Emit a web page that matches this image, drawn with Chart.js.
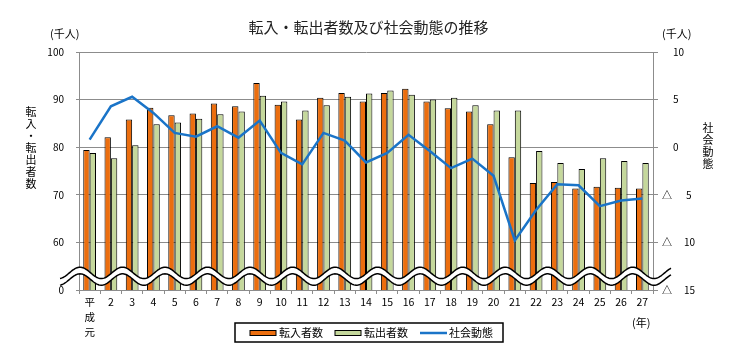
<!DOCTYPE html>
<html lang="ja">
<head>
<meta charset="utf-8">
<title>転入・転出者数及び社会動態の推移</title>
<script src="https://cdn.jsdelivr.net/npm/chart.js@4.4.1/dist/chart.umd.min.js"></script>
<style>
  html, body { margin: 0; padding: 0; background: #fff; }
</style>
</head>
<body>
<canvas id="chart" width="737" height="351"></canvas>
<script>
// 平成元年〜27年
const years = [['平', '成', '元'], '2', '3', '4', '5', '6', '7', '8', '9', '10', '11', '12', '13', '14',
  '15', '16', '17', '18', '19', '20', '21', '22', '23', '24', '25', '26', '27'];

// 千人
const tennyu = [79.4, 82.1, 85.8, 88.3, 86.7, 87.1, 89.2, 88.6, 93.5, 88.9, 85.8, 90.4, 91.4, 89.6,
  91.4, 92.3, 89.6, 88.2, 87.5, 84.8, 77.9, 72.5, 72.7, 71.3, 71.7, 71.5, 71.3];
const tenshutsu = [78.8, 77.7, 80.4, 84.8, 85.2, 86.0, 86.9, 87.5, 90.8, 89.6, 87.7, 88.8, 90.6, 91.3,
  91.9, 91.0, 90.0, 90.4, 88.8, 87.7, 87.7, 79.2, 76.7, 75.4, 77.7, 77.1, 76.7];
const shakai = [0.8, 4.3, 5.3, 3.6, 1.5, 1.1, 2.2, 1.0, 2.8, -0.6, -1.8, 1.5, 0.7, -1.6,
  -0.6, 1.3, -0.4, -2.2, -1.2, -3.0, -9.8, -6.6, -3.9, -4.0, -6.2, -5.6, -5.4];

// 左軸は 50 の位置を「0」として表示（軸の省略）
const leftTicks = [100, 90, 80, 70, 60, 50];
const rightTicks = [10, 5, 0, -5, -10, -15];

const FONT = "'Noto Sans CJK JP', 'Noto Sans', sans-serif";
const GRID = '#8c8c8c';

function wave(ctx, x0, x1, cy, amp, per, phase, back) {
  const step = back ? -1 : 1;
  const from = back ? x1 : x0, to = back ? x0 : x1;
  for (let x = from; back ? x >= to : x <= to; x += step) {
    const y = cy - amp * Math.cos(2 * Math.PI * (x - phase) / per);
    if (x === from && !back) ctx.moveTo(x, y); else ctx.lineTo(x, y);
  }
}

const decor = {
  id: 'decor',
  afterDatasetsDraw(chart) {
    const { ctx, chartArea, scales } = chart;
    const y = scales.y;
    const cw = (chartArea.right - chartArea.left) / years.length;
    const x0 = chartArea.left - 19, x1 = chartArea.right + 18;
    const up = y.getPixelForValue(53.6), lo = y.getPixelForValue(52.2);
    const amp = 5.7, per = cw * 2, phase = chartArea.left + 1;
    ctx.save();
    ctx.beginPath();
    wave(ctx, x0, x1, up, amp, per, phase, false);
    wave(ctx, x0, x1, lo, amp, per, phase, true);
    ctx.closePath();
    ctx.fillStyle = '#fff';
    ctx.fill();
    ctx.strokeStyle = '#000';
    ctx.lineWidth = 1.5;
    ctx.beginPath(); wave(ctx, x0, x1, up, amp, per, phase, false); ctx.stroke();
    ctx.beginPath(); wave(ctx, x0, x1, lo, amp, per, phase, false); ctx.stroke();
    ctx.restore();
  },
  afterDraw(chart) {
    const { ctx, scales } = chart;
    ctx.save();
    ctx.fillStyle = '#000';
    ctx.textBaseline = 'middle';

    // 右軸の目盛ラベル（マイナスは△表記）
    ctx.font = '10px ' + FONT;
    ctx.textAlign = 'left';
    rightTicks.forEach(v => {
      const py = scales.y1.getPixelForValue(v);
      if (v >= 0) {
        ctx.fillText(String(v), 673, py);
      } else {
        ctx.fillText('△', 662, py);
        ctx.fillText(String(-v), v <= -10 ? 684 : 686, py);
      }
    });

    // 単位
    ctx.font = '11px ' + FONT;
    ctx.fillText('(千人)', 50, 34);
    ctx.fillText('(千人)', 662, 34);
    ctx.fillText('(年)', 632, 323);

    // 軸タイトル（縦書き）
    ctx.font = '11px ' + FONT;
    ctx.textAlign = 'center';
    Array.from('転入・転出者数').forEach((c, i) => ctx.fillText(c, 31, 112 + i * 12));
    Array.from('社会動態').forEach((c, i) => ctx.fillText(c, 708, 128 + i * 12));

    // 凡例
    ctx.lineWidth = 1.5;
    ctx.strokeStyle = '#000';
    ctx.strokeRect(235, 323, 268, 19);
    const ds = chart.data.datasets;
    const items = [[250, ds[0]], [335, ds[1]], [420, ds[2]]];
    ctx.font = '11px ' + FONT;
    ctx.textAlign = 'left';
    items.forEach(([lx, d]) => {
      if (d.type === 'line') {
        ctx.strokeStyle = d.borderColor;
        ctx.lineWidth = 2.5;
        ctx.beginPath(); ctx.moveTo(lx, 333); ctx.lineTo(lx + 27, 333); ctx.stroke();
      } else {
        ctx.fillStyle = d.backgroundColor;
        ctx.fillRect(lx, 330.5, 26, 5);
        ctx.strokeStyle = '#000';
        ctx.lineWidth = 1;
        ctx.strokeRect(lx, 330.5, 26, 5);
      }
      ctx.fillStyle = '#000';
      ctx.fillText(d.label, lx + 29, 333);
    });
    ctx.restore();
  }
};

new Chart(document.getElementById('chart'), {
  type: 'bar',
  data: {
    labels: years,
    datasets: [{
      label: '転入者数',
      data: tennyu,
      backgroundColor: '#ec6e0e',
      borderColor: '#000',
      borderWidth: 1,
      yAxisID: 'y',
      order: 1,
      categoryPercentage: 0.6,
      barPercentage: 1
    }, {
      label: '転出者数',
      data: tenshutsu,
      backgroundColor: '#c5d89c',
      borderColor: '#000',
      borderWidth: 1,
      yAxisID: 'y',
      order: 1,
      categoryPercentage: 0.6,
      barPercentage: 1
    }, {
      type: 'line',
      label: '社会動態',
      data: shakai,
      borderColor: '#1a74c8',
      borderWidth: 2.5,
      pointRadius: 0,
      tension: 0,
      fill: false,
      yAxisID: 'y1',
      order: 0
    }]
  },
  options: {
    responsive: false,
    animation: false,
    devicePixelRatio: 1,
    layout: { padding: 0 },
    plugins: {
      legend: { display: false },
      tooltip: { enabled: false },
      title: {
        display: true,
        text: '転入・転出者数及び社会動態の推移',
        color: '#222',
        font: { family: FONT, size: 15, weight: 'normal', lineHeight: 1.2 },
        padding: { top: 18, bottom: 16 }
      }
    },
    scales: {
      x: {
        grid: { display: true, drawOnChartArea: false, color: GRID, tickLength: 4, offset: true },
        border: { color: GRID },
        ticks: {
          color: '#000', autoSkip: false, maxRotation: 0, padding: 0,
          font: { family: FONT, size: 10.5, lineHeight: 1.45 }
        },
        afterFit(scale) { scale.height = 61; }
      },
      y: {
        position: 'left',
        min: 50, max: 100,
        afterBuildTicks(scale) { scale.ticks = leftTicks.map(v => ({ value: v })); },
        grid: { color: GRID, tickLength: 3 },
        border: { color: GRID },
        ticks: {
          color: '#000', padding: 12,
          font: { family: FONT, size: 10 },
          callback: v => (v === 50 ? '0' : String(v))
        },
        afterFit(scale) { scale.width = 79; }
      },
      y1: {
        position: 'right',
        min: -15, max: 10,
        afterBuildTicks(scale) { scale.ticks = rightTicks.map(v => ({ value: v })); },
        grid: { drawOnChartArea: false, color: GRID, tickLength: 5 },
        border: { color: GRID },
        ticks: { display: false },
        afterFit(scale) { scale.width = 84; }
      }
    }
  },
  plugins: [decor]
});
</script>
</body>
</html>
